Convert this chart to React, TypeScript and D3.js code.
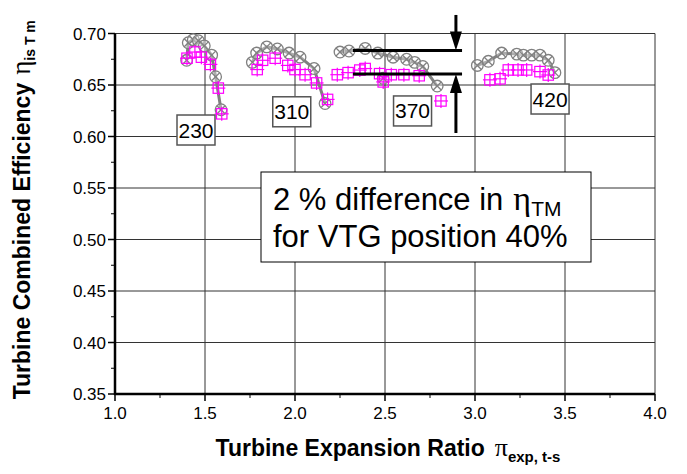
import React from 'react';
import * as d3 from 'd3';

const W = 687;
const H = 474;

// axes
const xDomain = [1.0, 4.0];
const yDomain = [0.35, 0.70];
const xTicks = [1.0, 1.5, 2.0, 2.5, 3.0, 3.5, 4.0];
const xMinorTicks = [1.25, 1.75, 2.25, 2.75, 3.25, 3.75];
const yTicks = [0.35, 0.40, 0.45, 0.50, 0.55, 0.60, 0.65, 0.70];
const yMinorTicks = [0.375, 0.425, 0.475, 0.525, 0.575, 0.625, 0.675];

// gray circles (series 1), one array per turbo speed line
const circles230 = [[1.398, 0.674], [1.407, 0.691], [1.435, 0.694], [1.463, 0.693], [1.496, 0.688], [1.537, 0.679], [1.559, 0.658], [1.589, 0.626]];
const circles310 = [[1.763, 0.672], [1.787, 0.681], [1.843, 0.687], [1.902, 0.685], [1.967, 0.681], [2.028, 0.677], [2.106, 0.666], [2.167, 0.632]];
const circles370 = [[2.25, 0.682], [2.30, 0.683], [2.39, 0.6855], [2.46, 0.681], [2.545, 0.677], [2.62, 0.675], [2.665, 0.672], [2.71, 0.668], [2.79, 0.649]];
const circles420 = [[3.013, 0.669], [3.074, 0.673], [3.148, 0.681], [3.232, 0.680], [3.269, 0.679], [3.315, 0.679], [3.361, 0.679], [3.407, 0.674], [3.444, 0.662]];
const circlesExtra = [[2.49, 0.6565]];

// magenta squares (series 2)
const squares230 = [[1.40, 0.676], [1.444, 0.682], [1.48, 0.677], [1.53, 0.670], [1.574, 0.647], [1.593, 0.622]];
const squares310 = [[1.79, 0.665], [1.82, 0.674], [1.89, 0.676], [1.96, 0.669], [2.00, 0.665], [2.056, 0.660], [2.12, 0.652], [2.181, 0.636]];
const squares370 = [[2.235, 0.660], [2.295, 0.662], [2.36, 0.6645], [2.39, 0.666], [2.47, 0.661], [2.49, 0.653], [2.535, 0.660], [2.605, 0.660], [2.69, 0.659], [2.811, 0.6345]];
const squares420 = [[3.083, 0.655], [3.139, 0.656], [3.185, 0.6646], [3.239, 0.6646], [3.287, 0.6646], [3.361, 0.663], [3.407, 0.6597]];

// speed labels: text, x, y (centre)
const speedLabels = ['230', '310', '370', '420'];
const speedLabelX = [1.45, 1.982, 2.653, 3.417];
const speedLabelY = [0.6063, 0.624, 0.6248, 0.6364];

// difference markers
const diffUpper = 0.6835;
const diffLower = 0.6607;
const diffX0 = 2.322;
const diffX1 = 2.928;
const arrowX = 2.894;
const arrowTop = 0.718;
const arrowBottom = 0.6034;

const x = d3.scaleLinear().domain(xDomain).range([115, 655]);
const y = d3.scaleLinear().domain(yDomain).range([394, 33.5]);

const grayLine = d3.line<number[]>().x(d => x(d[0])).y(d => y(d[1]));

const GRAY = '#808080';
const MAG = '#ff00ff';
const tickFont = 'Liberation Sans, Arial, sans-serif';
const titleFont = 'Liberation Sans Narrow, Arial Narrow, Liberation Sans, Arial, sans-serif';
const greekFont = 'Liberation Serif, Times New Roman, serif';

function Circle({ d }: { d: number[] }) {
  const cx = x(d[0]);
  const cy = y(d[1]);
  const r = 5.8;
  const k = 4;
  return (
    <g stroke={GRAY} strokeWidth={1.3} fill="none">
      <circle cx={cx} cy={cy} r={r} fill="rgba(255,255,255,0.35)" />
      <line x1={cx - k} y1={cy - k} x2={cx + k} y2={cy + k} />
      <line x1={cx - k} y1={cy + k} x2={cx + k} y2={cy - k} />
    </g>
  );
}

function Square({ d }: { d: number[] }) {
  const cx = x(d[0]);
  const cy = y(d[1]);
  const s = 5.2;
  const p = 7;
  return (
    <g stroke={MAG} strokeWidth={1.2} fill="none">
      <rect x={cx - s} y={cy - s} width={2 * s} height={2 * s} />
      <line x1={cx - p} y1={cy} x2={cx + p} y2={cy} />
      <line x1={cx} y1={cy - p} x2={cx} y2={cy + p} />
    </g>
  );
}

export default function App() {
  const circleGroups = [circles230, circles310, circles370, circles420];
  const allCircles = [...circles230, ...circles310, ...circles370, ...circles420, ...circlesExtra];
  const allSquares = [...squares230, ...squares310, ...squares370, ...squares420];
  const x0 = x(xDomain[0]);
  const x1 = x(xDomain[1]);
  const y0 = y(yDomain[0]);
  const y1 = y(yDomain[1]);
  return (
    <svg width={W} height={H} style={{ position: 'absolute', left: 0, top: 0, background: '#fff' }}>
      {/* grid */}
      <g stroke="#333" strokeWidth={1}>
        {xTicks.slice(1).map(t => (
          <line key={'gx' + t} x1={x(t)} x2={x(t)} y1={y1} y2={y0} />
        ))}
        {yTicks.slice(1).map(t => (
          <line key={'gy' + t} x1={x0} x2={x1} y1={y(t)} y2={y(t)} />
        ))}
      </g>
      {/* axes */}
      <g stroke="#000">
        <line x1={x0} x2={x0} y1={y1} y2={y0 + 1} strokeWidth={2.5} />
        <line x1={x0 - 1} x2={x1} y1={y0} y2={y0} strokeWidth={2.5} />
        {xTicks.map(t => (
          <line key={'tx' + t} x1={x(t)} x2={x(t)} y1={y0} y2={y0 + 7} strokeWidth={1.5} />
        ))}
        {xMinorTicks.map(t => (
          <line key={'mx' + t} x1={x(t)} x2={x(t)} y1={y0} y2={y0 + 4} strokeWidth={1} />
        ))}
        {yTicks.map(t => (
          <line key={'ty' + t} x1={x0 - 7} x2={x0} y1={y(t)} y2={y(t)} strokeWidth={1.5} />
        ))}
        {yMinorTicks.map(t => (
          <line key={'my' + t} x1={x0 - 4} x2={x0} y1={y(t)} y2={y(t)} strokeWidth={1} />
        ))}
      </g>
      <g fontFamily={tickFont} fontSize={17} fill="#000">
        {xTicks.map(t => (
          <text key={'lx' + t} x={x(t)} y={y0 + 25} textAnchor="middle">{t.toFixed(1)}</text>
        ))}
        {yTicks.map(t => (
          <text key={'ly' + t} x={x0 - 9} y={y(t) + 6} textAnchor="end">{t.toFixed(2)}</text>
        ))}
      </g>
      {/* axis titles */}
      <text x={388} y={456} textAnchor="middle" fontFamily={titleFont} fontWeight="bold" fontSize={23}>
        Turbine Expansion Ratio
        <tspan dx={10} fontFamily={greekFont} fontWeight="normal" fontSize={26}>π</tspan>
        <tspan dy={6} fontSize={15}>exp, t-s</tspan>
      </text>
      <text transform={`translate(30, ${(y0 + y1) / 2 - 4}) rotate(-90)`} textAnchor="middle" fontFamily={titleFont} fontWeight="bold" fontSize={23}>
        Turbine Combined Efficiency
        <tspan dx={8} fontFamily={greekFont} fontWeight="normal" fontSize={27}>η</tspan>
        <tspan dy={5} fontSize={14}>is T m</tspan>
      </text>
      {/* gray lines */}
      {circleGroups.map((g, i) => (
        <path key={'gl' + i} d={grayLine(g) || ''} fill="none" stroke={GRAY} strokeWidth={3} />
      ))}
      {allCircles.map((d, i) => <Circle key={'c' + i} d={d} />)}
      {allSquares.map((d, i) => <Square key={'s' + i} d={d} />)}
      {/* difference markers */}
      <g stroke="#000" strokeWidth={3}>
        <line x1={x(diffX0)} x2={x(diffX1)} y1={y(diffUpper)} y2={y(diffUpper)} />
        <line x1={x(diffX0)} x2={x(diffX1)} y1={y(diffLower)} y2={y(diffLower)} />
        <line x1={x(arrowX)} x2={x(arrowX)} y1={y(arrowTop)} y2={y(diffUpper) - 14} />
        <line x1={x(arrowX)} x2={x(arrowX)} y1={y(arrowBottom)} y2={y(diffLower) + 14} />
      </g>
      <path d={`M${x(arrowX)},${y(diffUpper)} l-6,-19 l12,0 z`} fill="#000" />
      <path d={`M${x(arrowX)},${y(diffLower)} l-6,19 l12,0 z`} fill="#000" />
      {/* speed labels */}
      {speedLabels.map((s, i) => (
        <g key={'sl' + s}>
          <rect x={x(speedLabelX[i]) - 19} y={y(speedLabelY[i]) - 15} width={38} height={30} fill="#fff" stroke="#555" strokeWidth={1.5} />
          <text x={x(speedLabelX[i])} y={y(speedLabelY[i]) + 7.5} textAnchor="middle" fontFamily={tickFont} fontSize={21}>{s}</text>
        </g>
      ))}
      {/* annotation */}
      <rect x={261} y={172} width={330} height={90} fill="#fff" stroke="#000" strokeWidth={1} />
      <text x={273} y={210} fontFamily={tickFont} fontSize={31}>
        2 % difference in
        <tspan dx={10} fontFamily={greekFont} fontSize={34}>η</tspan>
        <tspan dy={6} fontSize={21}>TM</tspan>
      </text>
      <text x={273} y={247} fontFamily={tickFont} fontSize={31}>for VTG position 40%</text>
    </svg>
  );
}
